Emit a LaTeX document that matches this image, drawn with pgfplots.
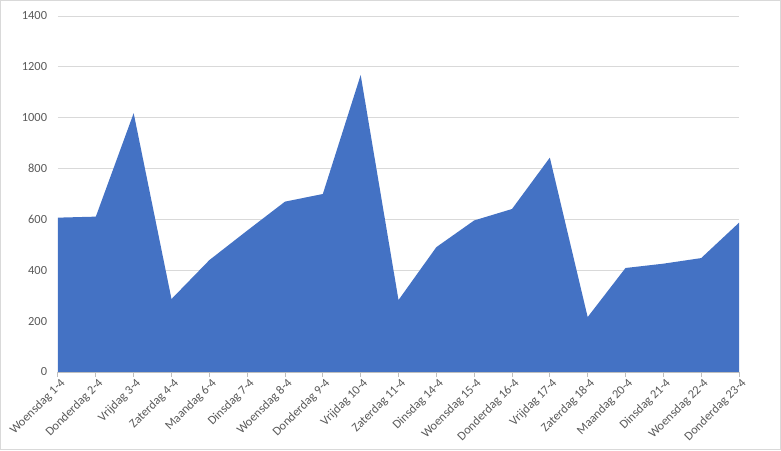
\documentclass[border=0pt]{standalone}
\usepackage{pgfplots}
\pgfplotsset{compat=1.18}
\usepackage{fontspec}
\setmainfont{Carlito}
\definecolor{areablue}{HTML}{4472C4}
\definecolor{labgray}{HTML}{595959}
\definecolor{gridgray}{HTML}{D9D9D9}
\definecolor{axgray}{HTML}{BFBFBF}

\begin{document}
\begin{tikzpicture}
  % whole chart frame: 781x450 px at 0.75pt per px
  \useasboundingbox (-43.5pt,-58.5pt) rectangle (542.25pt,279pt);
  \draw[gridgray, line width=0.75pt] (-43.1pt,-58.1pt) rectangle (541.85pt,278.6pt);
  \begin{axis}[
    at={(0,0)}, anchor=south west,
    scale only axis,
    width=510.75pt, height=267pt,
    xmin=0, xmax=18,
    ymin=0, ymax=1400,
    ytick={0,200,...,1400},
    xtick={0,...,18},
    xticklabels={Woensdag 1-4, Donderdag 2-4, Vrijdag 3-4, Zaterdag 4-4,
      Maandag 6-4, Dinsdag 7-4, Woensdag 8-4, Donderdag 9-4, Vrijdag 10-4,
      Zaterdag 11-4, Dinsdag 14-4, Woensdag 15-4, Donderdag 16-4, Vrijdag 17-4,
      Zaterdag 18-4, Maandag 20-4, Dinsdag 21-4, Woensdag 22-4, Donderdag 23-4},
    axis x line*=bottom, axis y line*=left,
    x axis line style={draw=axgray, line width=0.75pt, -},
    y axis line style={draw=none},
    xtick align=outside, major tick length=3.5pt,
    xtick style={draw=axgray, line width=0.75pt},
    ytick style={draw=none},
    ymajorgrids,
    grid style={draw=gridgray, line width=0.75pt},
    tick label style={font=\fontsize{9.3}{11}\selectfont, text=labgray},
    xticklabel style={rotate=45, anchor=north east, inner sep=1pt, xshift=1.5pt},
    yticklabel style={inner sep=2pt, xshift=-6pt},
    /pgf/number format/assume math mode=true,
    scaled y ticks=false,
    yticklabel={\pgfmathprintnumber[fixed, 1000 sep={}]{\tick}},
    clip=false,
  ]
    \addplot[fill=areablue, draw=none] coordinates {
      (0,607) (1,611) (2,1018) (3,287) (4,440) (5,556) (6,670) (7,700)
      (8,1168) (9,283) (10,491) (11,596) (12,641) (13,843) (14,216)
      (15,409) (16,426) (17,448) (18,587)
    } \closedcycle;
    \draw[axgray, line width=0.75pt] (axis cs:0,0) -- (axis cs:18,0);
  \end{axis}
\end{tikzpicture}
\end{document}
